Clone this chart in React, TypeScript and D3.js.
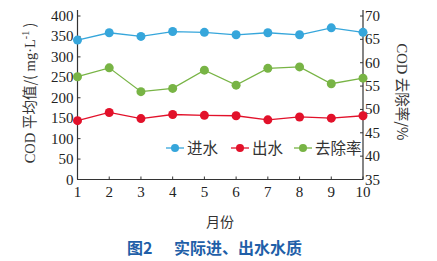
import React from "react";
import * as d3 from "d3";

const months = [1, 2, 3, 4, 5, 6, 7, 8, 9, 10];
const inflow = [341, 359, 350, 362, 360, 354, 359, 354, 371, 360];
const outflow = [144, 164, 149, 159, 157, 156, 146, 153, 150, 156];
const removal = [57.0, 58.9, 53.8, 54.5, 58.4, 55.2, 58.8, 59.1, 55.5, 56.7];
const leftTicks = [0, 50, 100, 150, 200, 250, 300, 350, 400];
const rightTicks = [35, 40, 45, 50, 55, 60, 65, 70];
const seriesNames = ["进水", "出水", "去除率"];
const colors = ["#36a6db", "#e2112a", "#78b445"];

const serif = "'Liberation Serif', 'Times New Roman', 'Noto Sans CJK SC', serif";
const cjk = "'Noto Sans CJK SC', 'Liberation Serif', serif";

export default function App() {
  const W = 437, H = 261;
  const x0 = 77.5, x1 = 363;
  const yTop = 16, yBot = 179.5;
  const x = d3.scaleLinear().domain([1, 10]).range([x0, x1]);
  const yL = d3.scaleLinear().domain([0, 400]).range([yBot, yTop]);
  const yR = d3.scaleLinear().domain([35, 70]).range([yBot, yTop]);
  const lineL = d3.line<number>().x((_, i) => x(months[i])).y((d) => yL(d));
  const lineR = d3.line<number>().x((_, i) => x(months[i])).y((d) => yR(d));

  const series = [
    { vals: inflow, path: lineL(inflow), y: yL },
    { vals: outflow, path: lineL(outflow), y: yL },
    { vals: removal, path: lineR(removal), y: yR },
  ];
  const legendX = [175, 240, 303];
  const legendY = 148;

  return (
    <svg width={W} height={H} style={{ position: "absolute", left: 0, top: 0, background: "#fff" }}>
      <line x1={x0} x2={x0} y1={yTop - 6} y2={yBot} stroke="#333" strokeWidth={1.2} />
      <line x1={x1} x2={x1} y1={yTop - 6} y2={yBot} stroke="#333" strokeWidth={1.2} />
      <line x1={x0} x2={x1} y1={yBot} y2={yBot} stroke="#333" strokeWidth={1.2} />
      {leftTicks.map((t) => (
        <g key={"l" + t}>
          <line x1={x0} x2={x0 + 3} y1={yL(t)} y2={yL(t)} stroke="#333" />
          <text x={x0 - 4} y={yL(t) + 5} textAnchor="end" fontFamily={serif} fontSize={15} fill="#222">{t}</text>
        </g>
      ))}
      {rightTicks.map((t) => (
        <g key={"r" + t}>
          <line x1={x1 - 3} x2={x1} y1={yR(t)} y2={yR(t)} stroke="#333" />
          <text x={x1 + 2} y={yR(t) + 5} textAnchor="start" fontFamily={serif} fontSize={15} fill="#222">{t}</text>
        </g>
      ))}
      {months.map((m) => (
        <g key={"x" + m}>
          <line x1={x(m)} x2={x(m)} y1={yBot} y2={yBot - 3} stroke="#333" />
          <text x={x(m)} y={yBot + 17} textAnchor="middle" fontFamily={serif} fontSize={15} fill="#222">{m}</text>
        </g>
      ))}
      {series.map((s, k) => (
        <g key={"s" + k}>
          <path d={s.path || ""} fill="none" stroke={colors[k]} strokeWidth={1.3} />
          {s.vals.map((v, i) => (
            <circle key={i} cx={x(months[i])} cy={s.y(v)} r={4.5} fill={colors[k]} />
          ))}
        </g>
      ))}
      {seriesNames.map((n, k) => (
        <g key={"lg" + k}>
          <line x1={legendX[k] - 9} x2={legendX[k] + 9} y1={legendY} y2={legendY} stroke={colors[k]} strokeWidth={1.3} />
          <circle cx={legendX[k]} cy={legendY} r={4} fill={colors[k]} />
          <text x={legendX[k] + 12} y={legendY + 5.5} fontFamily={cjk} fontSize={15.5} fill="#333">{n}</text>
        </g>
      ))}
      <text transform="translate(35,93) rotate(-90)" textAnchor="middle" fontFamily={cjk} fontSize={14.5} fill="#333" xmlSpace="preserve">
        <tspan fontFamily={serif}>COD </tspan>
        <tspan>平均值/(</tspan>
        <tspan fontFamily={serif}> mg·L</tspan>
        <tspan fontFamily={serif} fontSize={10} dy={-6}>-1</tspan>
        <tspan dy={6}> )</tspan>
      </text>
      <text transform="translate(397,92) rotate(90)" textAnchor="middle" fontFamily={cjk} fontSize={14.5} fill="#333" xmlSpace="preserve">
        <tspan fontFamily={serif}>COD </tspan>
        <tspan>去除率/%</tspan>
      </text>
      <text x={220} y={227} textAnchor="middle" fontFamily={cjk} fontSize={14} fill="#333">月份</text>
      <text x={127} y={254} fontFamily={cjk} fontSize={16} fontWeight="bold" fill="#1f5fa8">图2</text>
      <text x={174} y={254} fontFamily={cjk} fontSize={16} fontWeight="bold" fill="#1f5fa8">实际进、出水水质</text>
    </svg>
  );
}
